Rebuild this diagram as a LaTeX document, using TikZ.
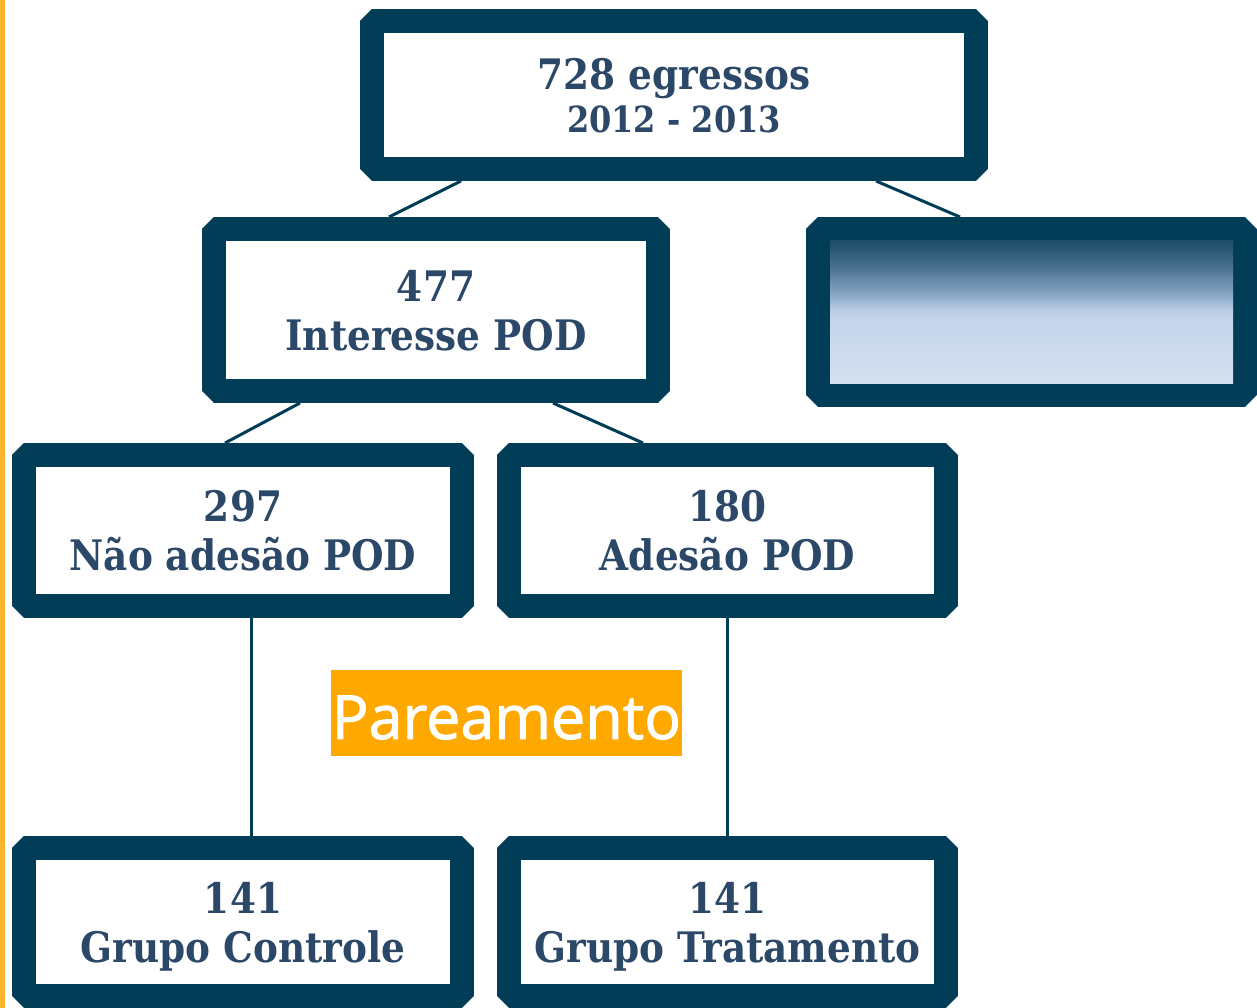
\documentclass[tikz,border=0pt]{standalone}
\usepackage{fontspec}
\setmainfont[FakeStretch=0.89]{DejaVu Serif}
\newfontfamily\pfont[FakeBold=1.5]{Open Sans}
\definecolor{border}{HTML}{023D58}
\definecolor{txt}{HTML}{2C4868}
\definecolor{orangebox}{HTML}{FFA800}
\definecolor{sidebar}{HTML}{FDB52D}
\definecolor{gA}{HTML}{1F4D6B}
\definecolor{gB}{HTML}{4E7592}
\definecolor{gC}{HTML}{8AA7C6}
\definecolor{gD}{HTML}{B8CCE5}
\definecolor{gE}{HTML}{C5D5EC}
\definecolor{gF}{HTML}{D5E0F0}
\pgfdeclareverticalshading{boxgrad}{100bp}{color(0bp)=(gF); color(25bp)=(gF); color(47bp)=(gE); color(51bp)=(gD); color(56bp)=(gC); color(65bp)=(gB); color(74.3bp)=(gA); color(100bp)=(gA)}
\begin{document}
\begin{tikzpicture}[x=1pt,y=-1pt,
  frame/.style={rectangle, draw=border, line width=24pt, line join=bevel, fill=white,
    inner sep=0pt, align=center, text=txt, text depth=0pt,
    font=\fontsize{42}{49}\selectfont\bfseries},
  conn/.style={draw=border, line width=3pt}]
\useasboundingbox (0,0) rectangle (1257,1008);
\fill[white] (0,0) rectangle (1257,1008);
\fill[sidebar] (0,0) rectangle (5,1008);

\node[frame, minimum width=604pt, minimum height=148pt] (A) at (674,95)
  {728 egressos\\[-6pt]{\fontsize{36}{42}\selectfont 2012 - 2013}};
\node[frame, minimum width=444pt, minimum height=162pt] (B) at (436,310)
  {477\\Interesse POD};
\node[frame, fill=none, minimum width=427pt, minimum height=166pt] (C) at (1031.5,312) {};
\shade[shading=boxgrad] ([xshift=24pt,yshift=24pt]C.south west) rectangle ([xshift=-24pt,yshift=-24pt]C.north east);
\node[frame, minimum width=438pt, minimum height=151pt] (D) at (243,530.5)
  {297\\Não adesão POD};
\node[frame, minimum width=437pt, minimum height=151pt] (E) at (727.5,530.5)
  {180\\Adesão POD};
\node[frame, minimum width=438pt, minimum height=148pt] (F) at (243,922)
  {141\\Grupo Controle};
\node[frame, minimum width=437pt, minimum height=148pt] (G) at (727.5,922)
  {141\\Grupo Tratamento};
\node[fill=orangebox, text=white, inner sep=0pt, minimum width=351pt, minimum height=86pt,
  text height=52pt, text depth=0pt,
  font=\pfont\fontsize{61}{70}\selectfont] (P) at (506.5,713) {Pareamento};

\draw[conn] ([xshift=-213pt]A.south) -- ([xshift=-47pt]B.north);
\draw[conn] ([xshift=202pt]A.south) -- ([xshift=-71.5pt]C.north);
\draw[conn] ([xshift=-136pt]B.south) -- ([xshift=-18pt]D.north);
\draw[conn] ([xshift=117pt]B.south) -- ([xshift=-84.5pt]E.north);
\draw[conn] ([xshift=8pt]D.south) -- ([xshift=8pt]F.north);
\draw[conn] (E.south) -- (G.north);
\end{tikzpicture}
\end{document}
